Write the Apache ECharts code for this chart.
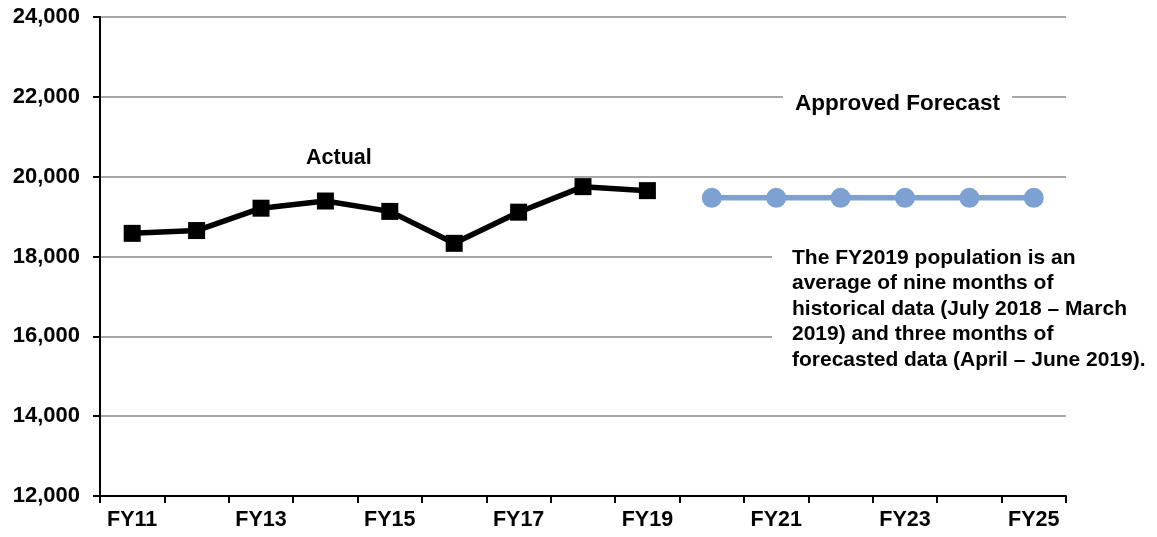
<!DOCTYPE html>
<html>
<head>
<meta charset="utf-8">
<script src="https://cdn.jsdelivr.net/npm/echarts@6/dist/echarts.min.js"></script>
<style>
    html, body { margin: 0; padding: 0; background: #fff; }
    #main { width: 1157px; height: 537px; }
</style>
</head>
<body>
<div id="main"></div>
<script>
// fiscal years on the x axis
var years = ['FY11','FY12','FY13','FY14','FY15','FY16','FY17','FY18','FY19',
             'FY20','FY21','FY22','FY23','FY24','FY25'];
// actual population FY11 - FY19
var actual = [18580, 18650, 19210, 19390, 19130, 18330, 19110, 19750, 19650];
// approved forecast FY20 - FY25
var forecast = [null, null, null, null, null, null, null, null, null,
                19470, 19470, 19470, 19470, 19470, 19470];
var yMin = 12000, yMax = 24000, yStep = 2000;

var note = 'The FY2019 population is an\naverage of nine months of\nhistorical data (July 2018 \u2013 March\n2019) and three months of\nforecasted data (April \u2013 June 2019).';

var font = 'Arial, "Liberation Sans", sans-serif';

var chart = echarts.init(document.getElementById('main'));
var option = {
    backgroundColor: '#fff',
    animation: false,
    grid: { left: 100, right: 91, top: 17, bottom: 41 },
    xAxis: {
        type: 'category',
        data: years,
        boundaryGap: true,
        axisLine: { lineStyle: { color: '#000', width: 2 } },
        axisTick: { show: true, interval: 0, length: 7, lineStyle: { color: '#000', width: 2 } },
        axisLabel: { interval: 1, margin: 13, color: '#000', fontWeight: 'bold', fontSize: 21.5, fontFamily: font },
        splitLine: { show: false }
    },
    yAxis: {
        type: 'value',
        min: yMin, max: yMax, interval: yStep,
        axisLine: { show: true, lineStyle: { color: '#000', width: 2 } },
        axisTick: { show: true, length: 7, lineStyle: { color: '#000', width: 2 } },
        axisLabel: {
            margin: 20, color: '#000', fontWeight: 'bold', fontSize: 22, fontFamily: font,
            formatter: function (v) { return v.toString().replace(/\B(?=(\d{3})+(?!\d))/g, ','); }
        },
        splitLine: { lineStyle: { color: '#8a8a8a', width: 1.5 } }
    },
    series: [
        {
            name: 'Actual',
            type: 'line',
            data: actual,
            symbol: 'rect',
            symbolSize: 17,
            lineStyle: { color: '#000', width: 5.5 },
            itemStyle: { color: '#000' },
            z: 3
        },
        {
            name: 'Approved Forecast',
            type: 'line',
            data: forecast,
            symbol: 'circle',
            symbolSize: 20,
            lineStyle: { color: '#7da1d0', width: 5.5 },
            itemStyle: { color: '#7da1d0' },
            z: 3
        }
    ],
    graphic: [
        {
            type: 'text', left: 306, top: 147, z: 1,
            style: { text: 'Actual', font: 'bold 21.5px ' + font, fill: '#000' }
        },
        {
            type: 'text', left: 783, top: 89, z: 1,
            style: {
                text: 'Approved Forecast', font: 'bold 22.5px ' + font, fill: '#000',
                backgroundColor: '#fff', padding: [3, 12, 3, 12]
            }
        },
        {
            type: 'text', left: 772, top: 239, z: 1,
            style: {
                text: note, font: 'bold 21px ' + font, fill: '#000', lineHeight: 25.5,
                backgroundColor: '#fff', padding: [6, 10, 6, 20]
            }
        }
    ]
};
chart.setOption(option);
</script>
</body>
</html>
